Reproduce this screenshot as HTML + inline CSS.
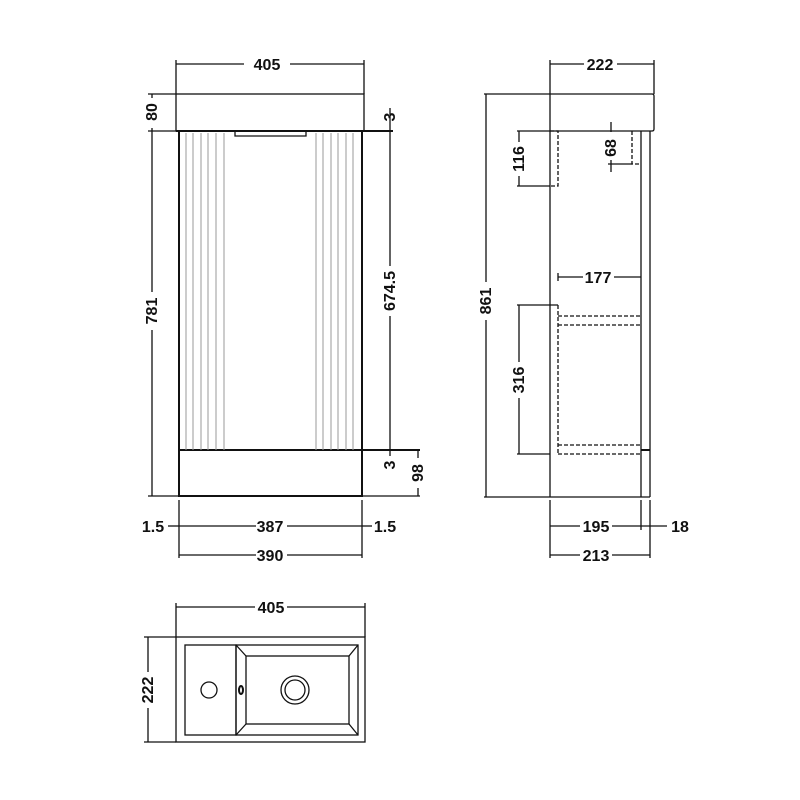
<!DOCTYPE html>
<html><head><style>body{margin:0;background:#fff}svg{display:block}text{font-family:"Liberation Sans",sans-serif;font-weight:bold;font-size:16px;fill:#111}</style></head><body>
<svg width="800" height="800" viewBox="0 0 800 800" xmlns="http://www.w3.org/2000/svg">
<rect width="800" height="800" fill="#fff"/>
<g stroke="#111" fill="none" stroke-width="1.3">
<!-- FRONT -->
<rect x="176" y="94" width="188" height="37"/>
<rect x="179" y="131" width="183" height="365" stroke-width="2"/>
<line x1="179" y1="450" x2="362" y2="450" stroke-width="2"/>
<line x1="176" y1="131" x2="393" y2="131" stroke-width="2"/>
<path d="M235 132 v4 h71 v-4"/>
<g stroke="#999" stroke-width="1"><line x1="186" y1="133" x2="186" y2="450"/><line x1="193" y1="133" x2="193" y2="450"/><line x1="201" y1="133" x2="201" y2="450"/><line x1="208" y1="133" x2="208" y2="450"/><line x1="216" y1="133" x2="216" y2="450"/><line x1="224" y1="133" x2="224" y2="450"/>
<line x1="316" y1="133" x2="316" y2="450"/><line x1="323" y1="133" x2="323" y2="450"/><line x1="331" y1="133" x2="331" y2="450"/><line x1="338" y1="133" x2="338" y2="450"/><line x1="346" y1="133" x2="346" y2="450"/><line x1="353" y1="133" x2="353" y2="450"/></g>
<line x1="176" y1="60" x2="176" y2="94"/><line x1="364" y1="60" x2="364" y2="94"/>
<line x1="176" y1="64" x2="244" y2="64"/><line x1="290" y1="64" x2="364" y2="64"/>
<line x1="148" y1="94" x2="176" y2="94"/><line x1="148" y1="131" x2="176" y2="131"/><line x1="148" y1="496" x2="179" y2="496"/>
<line x1="152" y1="94" x2="152" y2="98"/><line x1="152" y1="128" x2="152" y2="131"/>
<line x1="152" y1="131" x2="152" y2="292"/><line x1="152" y1="330" x2="152" y2="496"/>
<line x1="390" y1="108" x2="390" y2="131"/>
<line x1="390" y1="131" x2="390" y2="266"/><line x1="390" y1="316" x2="390" y2="450"/>
<line x1="362" y1="450" x2="420" y2="450" stroke-width="2"/><line x1="390" y1="450" x2="390" y2="456"/>
<line x1="362" y1="496" x2="420" y2="496"/>
<line x1="418" y1="450" x2="418" y2="458"/><line x1="418" y1="488" x2="418" y2="496"/>
<line x1="179" y1="500" x2="179" y2="558"/><line x1="362" y1="500" x2="362" y2="558"/>
<line x1="168" y1="526" x2="179" y2="526"/><line x1="179" y1="526" x2="256" y2="526"/><line x1="287" y1="526" x2="362" y2="526"/><line x1="362" y1="526" x2="372" y2="526"/>
<line x1="179" y1="555" x2="256" y2="555"/><line x1="287" y1="555" x2="362" y2="555"/>
<!-- SIDE -->
<path d="M550 94 H652 Q654 94 654 96 V129 Q654 131 652 131 H550 Z"/>
<line x1="550" y1="131" x2="550" y2="497"/><line x1="641" y1="131" x2="641" y2="497"/><line x1="650" y1="131" x2="650" y2="497"/>
<line x1="550" y1="497" x2="650" y2="497"/>
<line x1="641" y1="450" x2="650" y2="450" stroke-width="2"/>
<line x1="550" y1="60" x2="550" y2="94"/><line x1="654" y1="60" x2="654" y2="94"/>
<line x1="550" y1="64" x2="584" y2="64"/><line x1="617" y1="64" x2="654" y2="64"/>
<line x1="484" y1="94" x2="550" y2="94"/><line x1="484" y1="497" x2="550" y2="497"/>
<line x1="486" y1="94" x2="486" y2="282"/><line x1="486" y1="320" x2="486" y2="497"/>
<g stroke-dasharray="4,2"><path d="M550 131 H558 V186 H550"/><path d="M632 131 V164 H641"/>
<line x1="558" y1="305" x2="558" y2="454"/><line x1="558" y1="316" x2="641" y2="316"/><line x1="558" y1="325" x2="641" y2="325"/><line x1="558" y1="445" x2="641" y2="445"/><line x1="558" y1="454" x2="641" y2="454"/></g>
<line x1="517" y1="131" x2="550" y2="131"/><line x1="517" y1="186" x2="550" y2="186"/>
<line x1="519" y1="131" x2="519" y2="142"/><line x1="519" y1="176" x2="519" y2="186"/>
<line x1="611" y1="122" x2="611" y2="132"/><line x1="611" y1="160" x2="611" y2="172"/><line x1="608" y1="164" x2="632" y2="164"/>
<line x1="558" y1="273" x2="558" y2="281"/><line x1="558" y1="277" x2="583" y2="277"/><line x1="614" y1="277" x2="641" y2="277"/>
<line x1="517" y1="305" x2="558" y2="305"/><line x1="517" y1="454" x2="550" y2="454"/>
<line x1="519" y1="305" x2="519" y2="362"/><line x1="519" y1="398" x2="519" y2="454"/>
<line x1="550" y1="500" x2="550" y2="558"/><line x1="641" y1="500" x2="641" y2="530"/><line x1="650" y1="500" x2="650" y2="558"/>
<line x1="550" y1="526" x2="580" y2="526"/><line x1="612" y1="526" x2="667" y2="526"/>
<line x1="550" y1="555" x2="580" y2="555"/><line x1="612" y1="555" x2="650" y2="555"/>
<!-- TOP -->
<rect x="176" y="637" width="189" height="105"/>
<rect x="185" y="645" width="51" height="90"/>
<rect x="236" y="645" width="122" height="90"/>
<rect x="246" y="656" width="103" height="68"/>
<line x1="236" y1="645" x2="246" y2="656"/><line x1="358" y1="645" x2="349" y2="656"/><line x1="236" y1="735" x2="246" y2="724"/><line x1="358" y1="735" x2="349" y2="724"/>
<circle cx="209" cy="690" r="8"/>
<ellipse cx="241" cy="690" rx="2" ry="4" stroke-width="2"/>
<circle cx="295" cy="690" r="14"/><circle cx="295" cy="690" r="10"/>
<line x1="176" y1="603" x2="176" y2="637"/><line x1="365" y1="603" x2="365" y2="637"/>
<line x1="176" y1="607" x2="255" y2="607"/><line x1="287" y1="607" x2="365" y2="607"/>
<line x1="144" y1="637" x2="176" y2="637"/><line x1="144" y1="742" x2="176" y2="742"/>
<line x1="148" y1="637" x2="148" y2="672"/><line x1="148" y1="708" x2="148" y2="742"/>
</g>
<g text-anchor="middle">
<text x="267" y="70">405</text>
<text x="600" y="70">222</text>
<text x="270" y="532">387</text>
<text x="270" y="561">390</text>
<text x="153" y="532">1.5</text>
<text x="385" y="532">1.5</text>
<text x="596" y="532">195</text>
<text x="680" y="532">18</text>
<text x="596" y="561">213</text>
<text x="598" y="283">177</text>
<text x="271" y="613">405</text>
<text transform="translate(157,112) rotate(-90)">80</text>
<text transform="translate(157,311) rotate(-90)">781</text>
<text transform="translate(395,117) rotate(-90)">3</text>
<text transform="translate(395,291) rotate(-90)">674.5</text>
<text transform="translate(395,465) rotate(-90)">3</text>
<text transform="translate(423,473) rotate(-90)">98</text>
<text transform="translate(491,301) rotate(-90)">861</text>
<text transform="translate(524,159) rotate(-90)">116</text>
<text transform="translate(616,148) rotate(-90)">68</text>
<text transform="translate(524,380) rotate(-90)">316</text>
<text transform="translate(153,690) rotate(-90)">222</text>
</g>
</svg>
</body></html>
